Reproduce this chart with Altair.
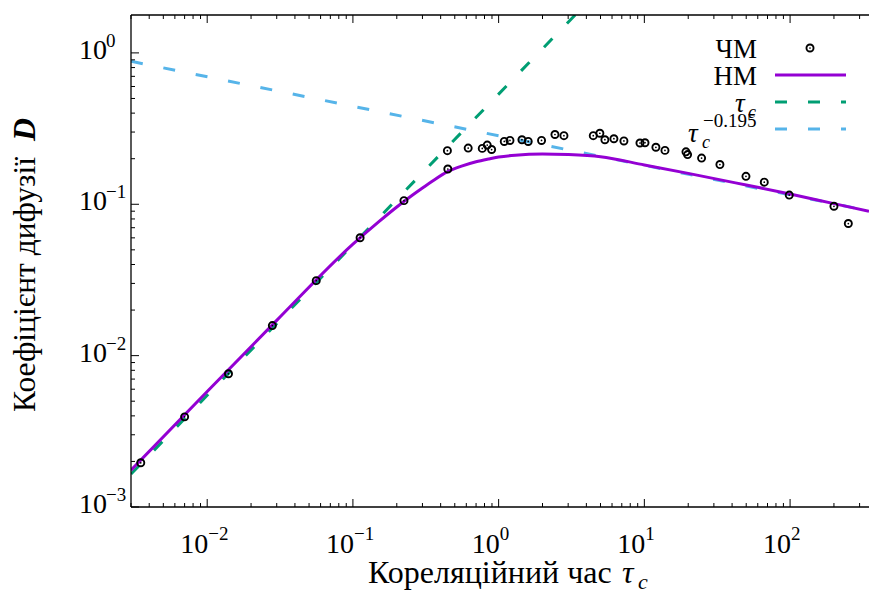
import altair as alt
import pandas as pd

# ---------------- data ----------------
chm_tau = [0.0035, 0.007, 0.014, 0.028, 0.056, 0.112, 0.224, 0.445, 0.448, 0.618,
           0.772, 0.835, 0.895, 1.093, 1.196, 1.445, 1.596, 1.97, 2.435, 2.806,
           4.46, 4.95, 5.36, 6.18, 7.24, 9.33, 10.1, 12.0, 13.85, 19.3,
           19.8, 24.7, 33.0, 49.8, 66.5, 98.7, 200, 251]
chm_d = [0.00196, 0.00394, 0.00759, 0.0158, 0.0313, 0.0601, 0.1057, 0.226, 0.171, 0.235,
         0.234, 0.246, 0.230, 0.260, 0.264, 0.267, 0.260, 0.264, 0.289, 0.284,
         0.284, 0.2946, 0.267, 0.271, 0.262, 0.254, 0.255, 0.238, 0.227, 0.222,
         0.213, 0.202, 0.183, 0.153, 0.140, 0.115, 0.097, 0.0746]

nm_tau = [0.003, 0.01, 0.03, 0.1, 0.15, 0.2, 0.25, 0.3, 0.35, 0.45, 0.55, 0.7, 0.85,
          1.0, 1.3, 2.0, 3.0, 5.0, 10, 20, 50, 100, 200, 348]
nm_d = [0.00175, 0.0058, 0.0171, 0.0545, 0.0765, 0.096, 0.113, 0.128, 0.142, 0.165,
        0.178, 0.191, 0.199, 0.205, 0.211, 0.215, 0.213, 0.206, 0.182, 0.160,
        0.134, 0.117, 0.101, 0.090]

green_tau = [0.003, 3.35]
green_d = [0.00165, 1.78]
blue_tau = [0.003, 348]
blue_d = [0.88, 0.0905]

x_major = [0.01, 0.1, 1, 10, 100]
x_major_sup = ["−2", "−1", "0", "1", "2"]
x_minor = [0.003, 0.004, 0.005, 0.006, 0.007, 0.008, 0.009,
           0.02, 0.03, 0.04, 0.05, 0.06, 0.07, 0.08, 0.09,
           0.2, 0.3, 0.4, 0.5, 0.6, 0.7, 0.8, 0.9,
           2, 3, 4, 5, 6, 7, 8, 9,
           20, 30, 40, 50, 60, 70, 80, 90,
           200, 300]
y_major = [0.001, 0.01, 0.1, 1]
y_major_sup = ["−3", "−2", "−1", "0"]
y_minor = [0.002, 0.003, 0.004, 0.005, 0.006, 0.007, 0.008, 0.009,
           0.02, 0.03, 0.04, 0.05, 0.06, 0.07, 0.08, 0.09,
           0.2, 0.3, 0.4, 0.5, 0.6, 0.7, 0.8, 0.9]

# ---------------- layout ----------------
W, H = 738, 492
FONT = "Liberation Serif"
xs = alt.Scale(type="log", domain=[0.003, 348], nice=False)
ys = alt.Scale(type="log", domain=[0.001, 1.78], nice=False)

chm = pd.DataFrame({"tau": chm_tau, "D": chm_d})
nm = pd.DataFrame({"tau": nm_tau, "D": nm_d})
green = pd.DataFrame({"tau": green_tau, "D": green_d})
blue = pd.DataFrame({"tau": blue_tau, "D": blue_d})
xmaj = pd.DataFrame({"v": x_major, "sup": x_major_sup})
xmin = pd.DataFrame({"v": x_minor})
ymaj = pd.DataFrame({"v": y_major, "sup": y_major_sup})
ymin = pd.DataFrame({"v": y_minor})


def one():
    return pd.DataFrame({"a": [0]})


X = lambda f: alt.X(f, type="quantitative", scale=xs, axis=None)
Y = lambda f: alt.Y(f, type="quantitative", scale=ys, axis=None)

blue_line = alt.Chart(blue).mark_line(color="#56B4E9", strokeWidth=3, strokeDash=[12, 21], clip=True).encode(
    x=X("tau"), y=Y("D"))
green_line = alt.Chart(green).mark_line(color="#009E73", strokeWidth=3, strokeDash=[12, 21], clip=True).encode(
    x=X("tau"), y=Y("D"))
nm_line = alt.Chart(nm).mark_line(color="#9400D3", strokeWidth=3, interpolate="monotone", clip=True).encode(
    x=X("tau"), y=Y("D"))
chm_pts = alt.Chart(chm).mark_point(shape="circle", filled=False, color="black", size=50, strokeWidth=1.9,
                                    opacity=1).encode(x=X("tau"), y=Y("D"))
chm_dots = alt.Chart(chm).mark_point(shape="circle", filled=True, color="black", size=3, opacity=1).encode(
    x=X("tau"), y=Y("D"))

frame = alt.Chart(one()).mark_rule(color="black", strokeWidth=1.3).encode(
    x=alt.value(0), x2=alt.value(W), y=alt.value(0))
frame_b = alt.Chart(one()).mark_rule(color="black", strokeWidth=1.3).encode(
    x=alt.value(0), x2=alt.value(W), y=alt.value(H))
frame_l = alt.Chart(one()).mark_rule(color="black", strokeWidth=1.3).encode(
    x=alt.value(0), y=alt.value(0), y2=alt.value(H))

tk = dict(color="black", strokeWidth=1)
xt_maj_b = alt.Chart(xmaj).mark_rule(**tk).encode(x=X("v"), y=alt.value(H), y2=alt.value(H - 8))
xt_maj_t = alt.Chart(xmaj).mark_rule(**tk).encode(x=X("v"), y=alt.value(0), y2=alt.value(8))
xt_min_b = alt.Chart(xmin).mark_rule(**tk).encode(x=X("v"), y=alt.value(H), y2=alt.value(H - 4))
xt_min_t = alt.Chart(xmin).mark_rule(**tk).encode(x=X("v"), y=alt.value(0), y2=alt.value(4))
yt_maj = alt.Chart(ymaj).mark_rule(**tk).encode(y=Y("v"), x=alt.value(0), x2=alt.value(8))
yt_min = alt.Chart(ymin).mark_rule(**tk).encode(y=Y("v"), x=alt.value(0), x2=alt.value(4))

# tick labels
xl_base = alt.Chart(xmaj).mark_text(text="10", font=FONT, fontSize=28, align="right", baseline="alphabetic",
                                    dx=1).encode(x=X("v"), y=alt.value(H + 46))
xl_sup = alt.Chart(xmaj).mark_text(font=FONT, fontSize=19, align="left", baseline="alphabetic", dx=1).encode(
    x=X("v"), y=alt.value(H + 33), text="sup:N")
yl_base = alt.Chart(ymaj).mark_text(text="10", font=FONT, fontSize=28, align="left", baseline="alphabetic",
                                    dy=6).encode(x=alt.value(-52), y=Y("v"))
yl_sup = alt.Chart(ymaj).mark_text(font=FONT, fontSize=19, align="left", baseline="alphabetic", dy=-6).encode(
    x=alt.value(-25), y=Y("v"), text="sup:N")


def txt(s, x, y, size=30, angle=0, align="left", **kw):
    return alt.Chart(one()).mark_text(text=s, font=FONT, fontSize=size, angle=angle, align=align,
                                      baseline="alphabetic", **kw).encode(x=alt.value(x), y=alt.value(y))


xtitle = [txt("Кореляційний час", 237, 568, size=32),
          txt("τ", 491, 568, size=32, fontStyle="italic"),
          txt("c", 507, 574, size=22, fontStyle="italic")]
ytitle = [txt("Коефіцієнт дифузії", -96, 397, size=31.5, angle=270),
          txt("D", -96, 126, size=32, fontStyle="italic", fontWeight="bold", angle=270)]

legend = [
    txt("ЧМ", 626, 43, size=27, align="right"),
    txt("НМ", 626, 70, size=27, align="right"),
    txt("τ", 604, 97, size=27, fontStyle="italic"),
    txt("c", 617, 103, size=18, fontStyle="italic"),
    txt("τ", 557, 127, size=27, fontStyle="italic"),
    txt("c", 571, 133, size=18, fontStyle="italic"),
    txt("−0.195", 572, 112, size=19),
    alt.Chart(one()).mark_point(shape="circle", filled=False, color="black", size=50, strokeWidth=1.9,
                                opacity=1).encode(x=alt.value(679), y=alt.value(33)),
    alt.Chart(one()).mark_point(shape="circle", filled=True, color="black", size=3, opacity=1).encode(
        x=alt.value(679), y=alt.value(33)),
    alt.Chart(one()).mark_rule(color="#9400D3", strokeWidth=3).encode(
        x=alt.value(644), x2=alt.value(715), y=alt.value(60)),
    alt.Chart(one()).mark_rule(color="#009E73", strokeWidth=3, strokeDash=[12, 21]).encode(
        x=alt.value(644), x2=alt.value(715), y=alt.value(87)),
    alt.Chart(one()).mark_rule(color="#56B4E9", strokeWidth=3, strokeDash=[12, 21]).encode(
        x=alt.value(644), x2=alt.value(715), y=alt.value(114)),
]

chart = alt.layer(
    blue_line, green_line, nm_line, chm_pts, chm_dots,
    frame, frame_b, frame_l, xt_maj_b, xt_maj_t, xt_min_b, xt_min_t, yt_maj, yt_min,
    xl_base, xl_sup, yl_base, yl_sup, *xtitle, *ytitle, *legend
).properties(
    width=W, height=H,
    padding={"left": 131, "top": 15, "right": 0, "bottom": 84},
    autosize=alt.AutoSizeParams(type="none"),
    background="white",
).configure(font=FONT).configure_text(font=FONT).configure_view(stroke=None)

chart.save("out.html", embed_options={"renderer": "svg", "actions": False})
